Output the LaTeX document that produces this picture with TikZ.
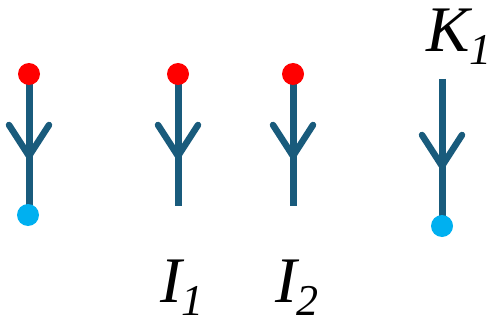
\documentclass[tikz,border=0pt]{standalone}
\usepackage{fontspec}
\setmainfont{Liberation Serif}
\definecolor{stem}{HTML}{195B7C}
\definecolor{topdot}{HTML}{FF0000}
\definecolor{botdot}{HTML}{00B0F0}
\tikzset{
  stemline/.style={draw=stem,line width=7pt},
  barb/.style={draw=stem,line width=6.5pt,line cap=round,line join=miter},
  reddot/.style={circle,fill=topdot,minimum size=22pt,inner sep=0pt},
  cyandot/.style={circle,fill=botdot,minimum size=22pt,inner sep=0pt},
  lab/.style={inner sep=0pt,anchor=base west,font=\fontsize{65}{70}\selectfont\itshape},
}
\newcommand{\subsc}[1]{\raisebox{-13pt}[\height][0pt]{\fontsize{44}{46}\selectfont\itshape #1}}
\begin{document}
\begin{tikzpicture}[x=1pt,y=-1pt]
\useasboundingbox (0,0) rectangle (494,323);
% end points
\coordinate (t1) at (29,74);
\coordinate (b1) at (28,215);
\coordinate (t2) at (178,74);
\coordinate (b2) at (178,206);
\coordinate (t3) at (293,74);
\coordinate (b3) at (293,206);
\coordinate (t4) at (442,79);
\coordinate (b4) at (442,226);
% stems
\draw[stemline] (t1) -- (29,215);
\draw[stemline] (t2) -- (b2);
\draw[stemline] (t3) -- (b3);
\draw[stemline] (t4) -- (b4);
% barbs
\coordinate (v1) at (29,156);
\coordinate (v2) at (178,156);
\coordinate (v3) at (293,156);
\coordinate (v4) at (442,166);
\draw[barb] ([shift={(-20,-31)}]v1) -- (v1) -- ([shift={(20,-31)}]v1);
\draw[barb] ([shift={(-20,-31)}]v2) -- (v2) -- ([shift={(20,-31)}]v2);
\draw[barb] ([shift={(-20,-31)}]v3) -- (v3) -- ([shift={(20,-31)}]v3);
\draw[barb] ([shift={(-20,-31)}]v4) -- (v4) -- ([shift={(20,-31)}]v4);
% dots
\node[reddot] (r1) at (t1) {};
\node[reddot] (r2) at (t2) {};
\node[reddot] (r3) at (t3) {};
\node[cyandot] (c1) at (b1) {};
\node[cyandot] (c4) at (b4) {};
% labels
\node[lab] (k1) at (426,52) {K\subsc{1}};
\node[lab] (i1) at (160,302) {I\subsc{1}};
\node[lab] (i2) at (275,302) {I\subsc{2}};
\end{tikzpicture}
\end{document}
